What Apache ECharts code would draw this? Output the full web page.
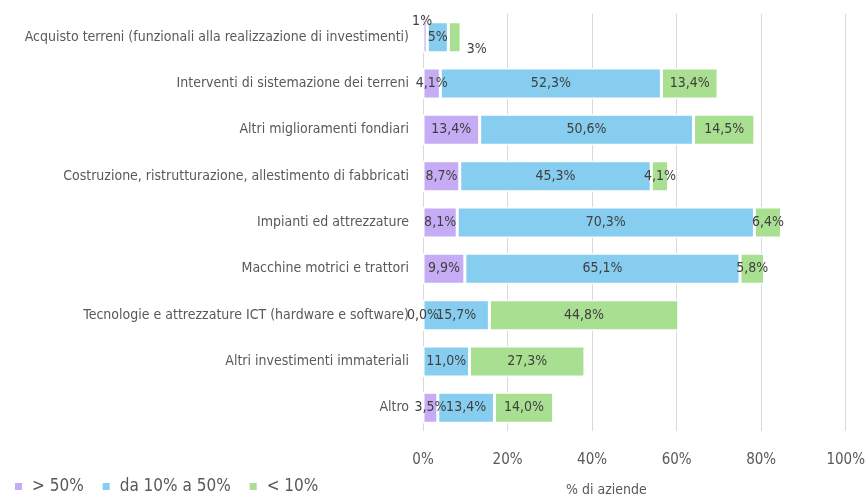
<!DOCTYPE html>
<html>
<head>
<meta charset="utf-8">
<script src="https://cdn.jsdelivr.net/npm/echarts@6/dist/echarts.min.js"></script>
<style>
  html, body { margin: 0; padding: 0; background: #fff; }
  #chart1 { width: 868px; height: 502px; }
</style>
</head>
<body>
<div id="chart1"></div>
<script>
var categories = [
  'Acquisto terreni (funzionali alla realizzazione di investimenti)',
  'Interventi di sistemazione dei terreni',
  'Altri miglioramenti fondiari',
  'Costruzione, ristrutturazione, allestimento di fabbricati',
  'Impianti ed attrezzature',
  'Macchine motrici e trattori',
  'Tecnologie e attrezzature ICT (hardware e software)',
  'Altri investimenti immateriali',
  'Altro'
];
var oltre50 = [1, 4.1, 13.4, 8.7, 8.1, 9.9, 0.0, null, 3.5];
var da10a50 = [5, 52.3, 50.6, 45.3, 70.3, 65.1, 15.7, 11.0, 13.4];
var sotto10 = [3, 13.4, 14.5, 4.1, 6.4, 5.8, 44.8, 27.3, 14.0];
var decimali = [0, 1, 1, 1, 1, 1, 1, 1, 1];
var xTicks = [0, 20, 40, 60, 80, 100];

var font = "'Liberation Sans Narrow', 'DejaVu Sans Condensed', sans-serif";

function fmt(v, i) {
  return v.toFixed(decimali[i]).replace('.', ',') + '%';
}

function makeData(values, firstOffset) {
  return values.map(function (v, i) {
    var item = { value: v };
    if (i === 0 && firstOffset) {
      item.label = { offset: firstOffset };
    }
    return item;
  });
}

var chartDom = document.getElementById('chart1');
var myChart = echarts.init(chartDom);
var option;

var labelStyle = {
  show: true,
  position: 'inside',
  color: '#404040',
  fontFamily: font,
  fontSize: 14,
  formatter: function (p) {
    if (p.value === null || p.value === undefined) return '';
    return fmt(p.value, p.dataIndex);
  }
};

option = {
  animation: false,
  textStyle: { fontFamily: font },
  grid: { left: 423, right: 22, top: 14, bottom: 59 },
  legend: {
    left: 8,
    bottom: 2,
    itemWidth: 9,
    itemHeight: 9,
    itemGap: 17,
    icon: 'rect',
    textStyle: { color: '#595959', fontSize: 17, fontFamily: font, padding: [0, 0, 0, 4] },
    data: ['> 50%', 'da 10% a 50%', '< 10%']
  },
  xAxis: {
    type: 'value',
    min: xTicks[0],
    max: xTicks[xTicks.length - 1],
    interval: 20,
    name: '% di aziende',
    nameLocation: 'middle',
    nameGap: 52,
    nameTextStyle: { color: '#595959', fontSize: 14, fontFamily: font, padding: [0, 56, 0, 0] },
    axisLine: { show: false },
    axisTick: { show: false },
    axisLabel: { formatter: '{value}%', color: '#595959', fontSize: 15, margin: 22 },
    splitLine: { lineStyle: { color: '#d9d9d9', width: 1 } }
  },
  yAxis: {
    type: 'category',
    inverse: true,
    data: categories,
    axisLine: { show: false },
    axisTick: { show: false },
    axisLabel: { color: '#595959', fontSize: 14, margin: 14, fontFamily: font }
  },
  series: [
    {
      name: '> 50%',
      type: 'bar',
      stack: 'tot',
      barWidth: 31,
      itemStyle: { color: '#c6abf5', borderColor: '#fff', borderWidth: 1.5 },
      label: labelStyle,
      data: makeData(oltre50, [-3, -16])
    },
    {
      name: 'da 10% a 50%',
      type: 'bar',
      stack: 'tot',
      itemStyle: { color: '#86cdf0', borderColor: '#fff', borderWidth: 1.5 },
      label: labelStyle,
      data: makeData(da10a50)
    },
    {
      name: '< 10%',
      type: 'bar',
      stack: 'tot',
      itemStyle: { color: '#a8df91', borderColor: '#fff', borderWidth: 1.5 },
      label: labelStyle,
      data: makeData(sotto10, [22, 12])
    }
  ]
};

option && myChart.setOption(option);
window.onresize = function () {
  myChart.resize();
};
</script>
</body>
</html>
